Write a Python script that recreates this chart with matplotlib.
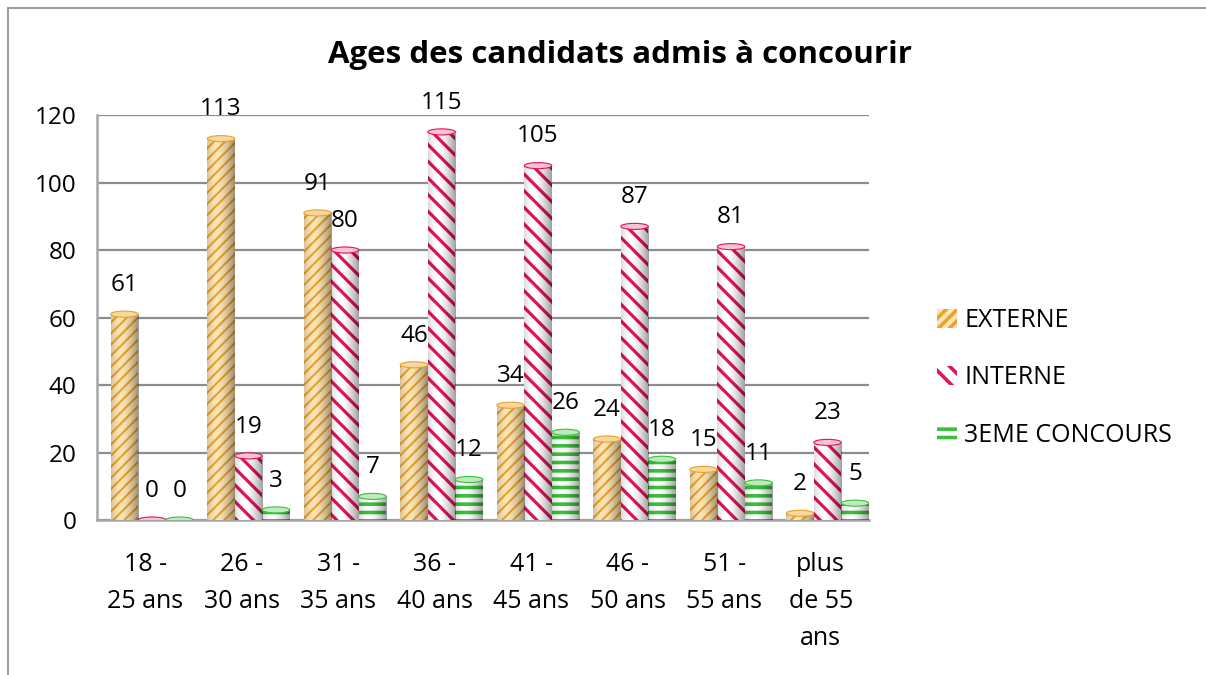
import numpy as np
import matplotlib
matplotlib.use("Agg")
import matplotlib.pyplot as plt
from matplotlib.patches import Ellipse
from matplotlib.lines import Line2D

# Données du graphique
categories = ["18 -\n25 ans", "26 -\n30 ans", "31 -\n35 ans", "36 -\n40 ans",
              "41 -\n45 ans", "46 -\n50 ans", "51 -\n55 ans", "plus\nde 55\nans"]
externe = [61, 113, 91, 46, 34, 24, 15, 2]
interne = [0, 19, 80, 115, 105, 87, 81, 23]
troisieme = [0, 3, 7, 12, 26, 18, 11, 5]

series = [
    ("EXTERNE", externe, "#e8a32e", "#fbe4b6", "///", 1.5, "#f6d79e"),
    ("INTERNE", interne, "#e2125e", "#ffffff", "\\\\", 2.3, "#f6c3d3"),
    ("3EME CONCOURS", troisieme, "#3cbf3c", "#ffffff", "--", 2.6, "#bfeabf"),
]

plt.rcParams['font.family'] = ['Open Sans', 'DejaVu Sans']

fig = plt.figure(figsize=(12.06, 6.75), dpi=100)
ax = fig.add_axes([0.0804, 0.2296, 0.6402, 0.6], zorder=2)

x = np.arange(len(categories))
largeur = 0.285
decalage = 0.07

# gradient pour donner un effet de cylindre
t = np.linspace(0, 1, 64)
alpha = 0.38 * (np.abs(t - 0.35) / 0.65) ** 1.6
grad = np.zeros((1, 64, 4))
grad[0, :, 3] = alpha

handles = []
for j, (nom, valeurs, couleur, fond, motif, lw, teinte) in enumerate(series):
    pos = x + decalage + (j - 1) * largeur
    plt.rcParams['hatch.linewidth'] = lw
    barres = ax.bar(pos, valeurs, largeur, color=fond, edgecolor=couleur,
                    linewidth=0, hatch=motif, label=nom, zorder=3)
    for b in barres:
        if hasattr(b, "set_hatch_linewidth"):
            b.set_hatch_linewidth(lw)
    handles.append(barres)
    for p, v in zip(pos, valeurs):
        if v > 0:
            ax.imshow(grad, extent=[p - largeur / 2, p + largeur / 2, 0, v],
                      aspect='auto', zorder=3.5, interpolation='bilinear')
        ax.add_patch(Ellipse((p, v), largeur, 1.8, facecolor=teinte,
                             edgecolor=couleur, linewidth=0.8, zorder=4))
        ax.annotate(str(v), (p, v), xytext=(0, 21), textcoords='offset points',
                    ha='center', va='center', fontsize=17.5, color='black')

ax.set_xlim(-0.5, len(categories) - 0.5)
ax.set_ylim(0, 120)
ax.set_yticks(np.arange(0, 121, 20))
ax.set_xticks(x)
ax.set_xticklabels(categories, fontsize=18, linespacing=1.62, va='top')
ax.tick_params(axis='y', length=0, pad=15, labelsize=17.5)
ax.tick_params(axis='x', length=0, pad=23)
ax.yaxis.grid(True, color='#8c8c8c', linewidth=1.6, zorder=0)
ax.set_axisbelow(True)
for s in ['top', 'right']:
    ax.spines[s].set_visible(False)
for s in ['left', 'bottom']:
    ax.spines[s].set_color('#a6a6a6')
    ax.spines[s].set_linewidth(1.8)
ax.patch.set_alpha(0)

fig.text(0.514, 0.918, "Ages des candidats admis à concourir", ha='center',
         va='center', fontsize=22.5, fontweight='bold')

leg = fig.legend(handles=handles, loc='center left', bbox_to_anchor=(0.758, 0.44),
                 frameon=False, fontsize=18, handlelength=0.8, handleheight=0.8,
                 handletextpad=0.3, labelspacing=1.3)

# cadre du graphique
fig.add_artist(Line2D([0.0066, 0.0066], [0, 0.988], color='#8c8c8c', linewidth=1.2))
fig.add_artist(Line2D([0.0066, 1], [0.988, 0.988], color='#8c8c8c', linewidth=1.2))

fig.savefig("out.png", dpi=100)
